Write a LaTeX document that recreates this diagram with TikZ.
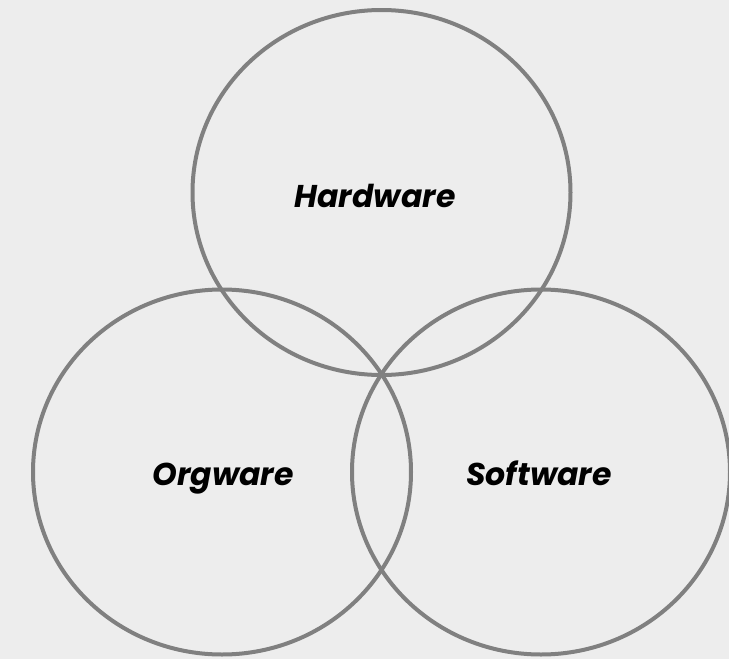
\documentclass[tikz,border=0pt]{standalone}
\usepackage{fontspec}
\usetikzlibrary{shapes.geometric}
\setmainfont{Poppins}
\definecolor{bgcol}{RGB}{237,237,237}
\definecolor{ringcol}{RGB}{128,128,128}
\tikzset{
  ring/.style={ellipse, draw=ringcol, line width=4pt, minimum width=378pt, minimum height=365pt, inner sep=0pt},
  lbl/.style={anchor=base, font=\fontsize{31.5}{36}\selectfont\bfseries\itshape, text=black, inner sep=0pt}
}
\begin{document}
\begin{tikzpicture}[x=1pt,y=-1pt]
  \fill[bgcol] (0,0) rectangle (729,659);
  \useasboundingbox (0,0) rectangle (729,659);
  \begin{scope}
    \clip (0,0) rectangle (729,659);
    \node[ring] (hw) at (381.5,192.5) {};
    \node[ring] (ow) at (222,472) {};
    \node[ring] (sw) at (541,472) {};
  \end{scope}
  \node[lbl] (thw) at (375,207) {Hardware};
  \node[lbl] (tow) at (223,485) {Orgware};
  \node[lbl] (tsw) at (539,485) {Software};
\end{tikzpicture}
\end{document}
